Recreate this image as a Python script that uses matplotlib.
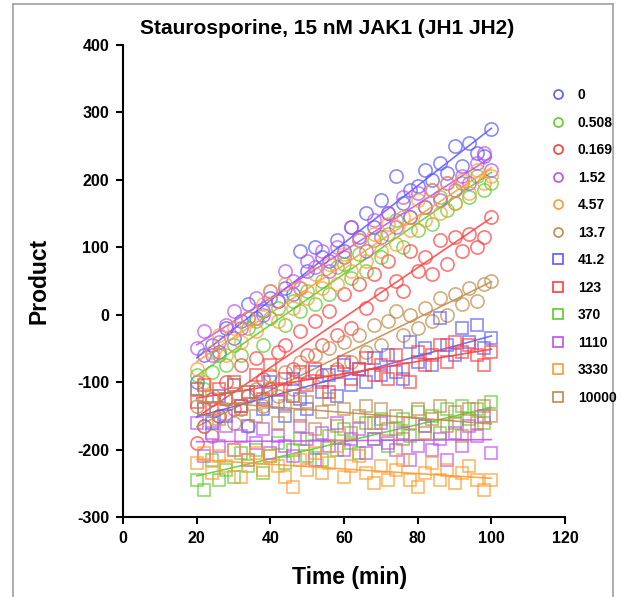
import numpy as np
import matplotlib
matplotlib.use("Agg")
import matplotlib.pyplot as plt
from matplotlib.lines import Line2D

plt.rcParams['font.family'] = ['Liberation Sans', 'DejaVu Sans']
plt.rcParams['font.weight'] = 'bold'
plt.rcParams['axes.unicode_minus'] = False

# time points (min)
times = [20, 22, 24, 26, 28, 30, 32, 34, 36, 38, 40, 42, 44, 46, 48, 50, 52, 54, 56, 58, 60,
         62, 64, 66, 68, 70, 72, 74, 76, 78, 80, 82, 84, 86, 88, 90, 92, 94, 96, 98, 100]

labels = ["0", "0.508", "0.169", "1.52", "4.57", "13.7",
          "41.2", "123", "370", "1110", "3330", "10000"]

conc_0 = [-100, -60, -45, -55, -20, -35, -10, 15, -5, 5, 25, 20, 40, 30, 95, 65, 100, 85, 80, 110, 95,
          130, 115, 150, 130, 170, 150, 205, 165, 185, 190, 215, 200, 225, 210, 250, 220, 255, 240, 235, 275]
conc_0508 = [-90, -110, -85, -60, -75, -45, -60, -20, -10, -45, -5, 10, -15, 20, 5, 35, 15, 50, 30, 70, 75,
             55, 90, 65, 110, 85, 120, 140, 100, 145, 125, 160, 135, 175, 155, 165, 195, 175, 205, 185, 195]
conc_0169 = [-190, -165, -125, -150, -100, -140, -75, -120, -65, -95, -110, -55, -45, -80, -25, -60, -10, -45, 5, -30, 30,
             -20, 45, 10, 60, 30, 80, 50, 35, 95, 65, 85, 60, 110, 75, 115, 95, 120, 100, 115, 145]
conc_152 = [-50, -25, -60, -40, -15, 5, -20, -5, 25, 0, 35, 20, 65, 50, 40, 80, 70, 95, 65, 100, 85,
            130, 110, 95, 140, 115, 150, 130, 175, 145, 180, 160, 185, 170, 195, 185, 205, 195, 225, 240, 215]
conc_457 = [-80, -100, -55, -30, -60, -20, -40, -5, -25, 15, 35, -10, 45, 10, 40, 25, 60, 40, 75, 45, 90,
            65, 110, 80, 120, 95, 135, 105, 145, 125, 170, 140, 185, 150, 195, 165, 200, 180, 215, 195, 205]
conc_137 = [-135, -165, -180, -150, -125, -160, -140, -165, -110, -135, -90, -120, -85, -110, -70, -100, -60, -90, -50, -80, -40,
            -70, -30, -55, -15, -45, -10, 5, -30, 0, -20, 10, -10, 25, 0, 30, 15, 40, 20, 45, 50]
conc_412 = [-110, -140, -160, -120, -150, -105, -135, -165, -115, -140, -100, -130, -150, -95, -125, -140, -85, -115, -90, -120, -75,
            -105, -80, -100, -65, -90, -60, -85, -95, -40, -70, -50, -75, -5, -45, -60, -20, -40, -15, -50, -35]
conc_123 = [-130, -105, -140, -110, -125, -100, -135, -115, -90, -125, -75, -110, -95, -120, -85, -105, -80, -100, -115, -85, -70,
            -95, -80, -65, -90, -75, -95, -60, -80, -100, -55, -75, -60, -45, -70, -40, -55, -45, -60, -75, -55]
conc_370 = [-245, -260, -215, -245, -230, -240, -205, -225, -200, -235, -210, -190, -220, -200, -185, -210, -195, -215, -180, -200, -170,
            -190, -205, -160, -185, -155, -195, -170, -155, -180, -145, -165, -150, -175, -140, -160, -135, -155, -140, -160, -130]
conc_1110 = [-160, -210, -175, -195, -165, -200, -180, -215, -190, -170, -205, -180, -195, -210, -165, -185, -215, -175, -195, -160, -200,
             -185, -170, -205, -185, -160, -190, -200, -175, -215, -195, -165, -200, -185, -215, -175, -195, -165, -180, -150, -205]
conc_3330 = [-220, -205, -235, -210, -225, -200, -240, -215, -205, -230, -210, -225, -240, -255, -215, -230, -205, -235, -220, -195, -240,
             -225, -210, -235, -250, -225, -245, -230, -215, -245, -255, -235, -220, -245, -230, -250, -235, -225, -245, -260, -245]
conc_10000 = [-110, -140, -120, -155, -125, -105, -140, -115, -150, -130, -110, -160, -135, -120, -150, -130, -170, -145, -125, -165, -140,
              -175, -150, -135, -160, -140, -170, -150, -185, -160, -140, -175, -155, -135, -165, -145, -180, -140, -160, -135, -150]

series = [conc_0, conc_0508, conc_0169, conc_152, conc_457, conc_137,
          conc_412, conc_123, conc_370, conc_1110, conc_3330, conc_10000]

blue, green, red, purple, orange, brown = '#5a5aff', '#5ccc2c', '#ff3c3c', '#c04ef0', '#ff9a2e', '#c08a4a'
colors = [blue, green, red, purple, orange, brown,
          blue, red, green, purple, orange, brown]
markers = ['o'] * 6 + ['s'] * 6

fig = plt.figure(figsize=(6.25, 5.97), dpi=100)
ax = fig.add_axes([0.197, 0.134, 0.707, 0.791])

t = np.array(times, dtype=float)
handles = []
for i, (vals, lab) in enumerate(zip(series, labels)):
    c = colors[i]
    ax.plot(t, vals, linestyle='none', marker=markers[i], markersize=9.5 if markers[i] == 'o' else 8.5,
            markerfacecolor='none', markeredgecolor=c, markeredgewidth=1.2, alpha=0.7)
    k, b = np.polyfit(t, vals, 1)
    ax.plot([t[0], t[-1]], [k * t[0] + b, k * t[-1] + b], color=c, lw=1.2, alpha=0.85)
    handles.append(Line2D([], [], linestyle='none', marker=markers[i], markersize=6.5,
                          markerfacecolor='none', markeredgecolor=c, markeredgewidth=1.2, label=lab))

ax.set_xlim(0, 120)
ax.set_ylim(-300, 400)
ax.set_xticks([0, 20, 40, 60, 80, 100, 120])
ax.set_yticks([-300, -200, -100, 0, 100, 200, 300, 400])
ax.spines['top'].set_visible(False)
ax.spines['right'].set_visible(False)
for s in ['left', 'bottom']:
    ax.spines[s].set_linewidth(1.5)
ax.tick_params(direction='out', length=5, width=1.5, labelsize=11.5, pad=5)
for lb in ax.get_xticklabels() + ax.get_yticklabels():
    lb.set_fontweight('bold')

fig.text(0.523, 0.953, "Staurosporine, 15 nM JAK1 (JH1 JH2)", ha='center', va='center',
         fontsize=15, fontweight='bold')
fig.text(0.062, 0.53, "Product", rotation=90, ha='center', va='center', fontsize=16.5, fontweight='bold')
fig.text(0.56, 0.032, "Time (min)", ha='center', va='center', fontsize=16.5, fontweight='bold')

leg = fig.legend(handles=handles, loc='upper left', bbox_to_anchor=(0.882, 0.852), frameon=False,
                 fontsize=10, handlelength=1.0, handletextpad=0.9, labelspacing=0.97,
                 borderpad=0, borderaxespad=0)
for tx in leg.get_texts():
    tx.set_fontweight('bold')

# grey frame around the figure
fig.add_artist(Line2D([13 / 625, 13 / 625], [0, 1 - 4 / 597], color='#a0a0a0', lw=1.2))
fig.add_artist(Line2D([13 / 625, 613 / 625], [1 - 4 / 597, 1 - 4 / 597], color='#a0a0a0', lw=1.2))
fig.add_artist(Line2D([613 / 625, 613 / 625], [0, 1 - 4 / 597], color='#a0a0a0', lw=1.2))

fig.savefig("out.png", dpi=100)
